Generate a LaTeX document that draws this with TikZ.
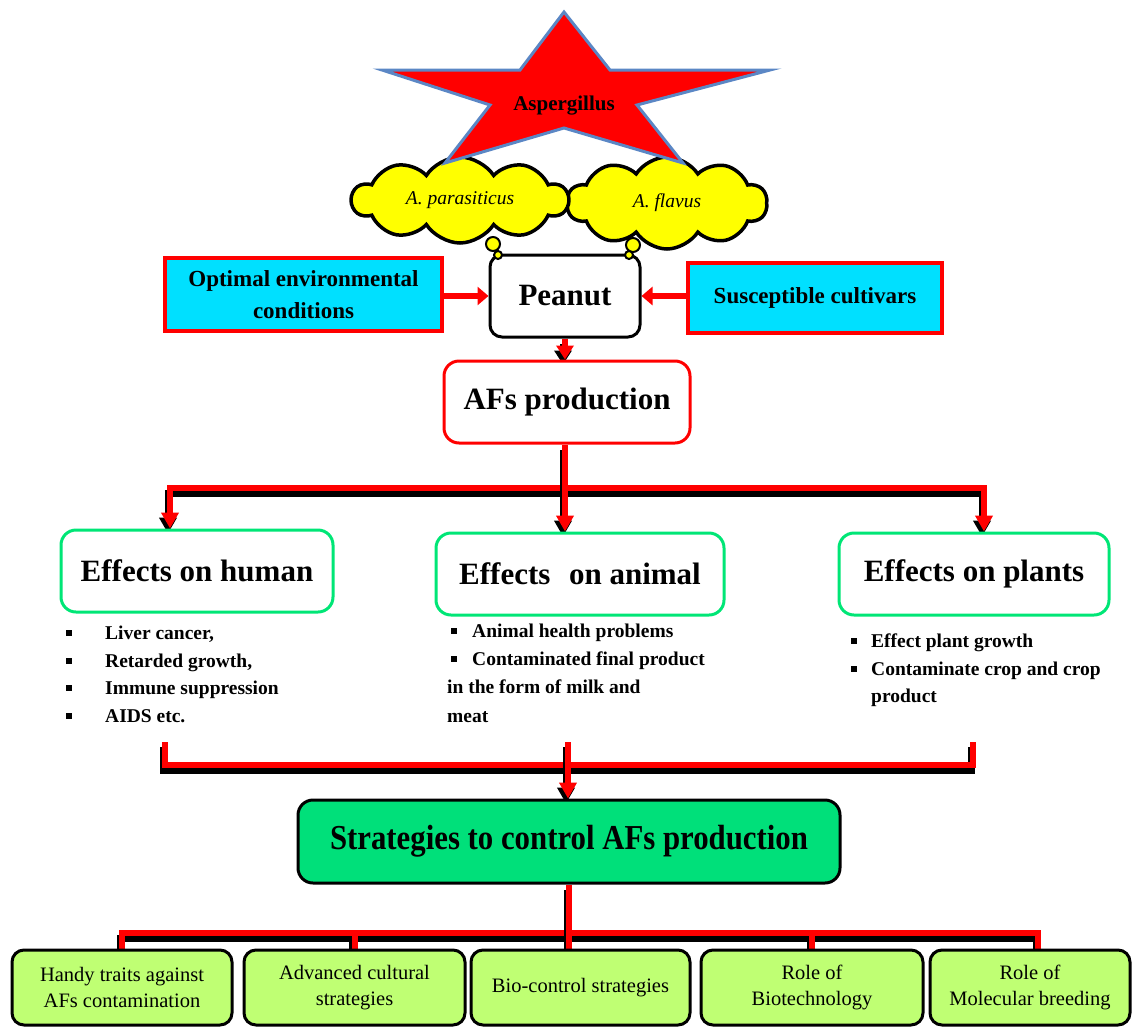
\documentclass[tikz,border=0pt]{standalone}
\usepackage{fontspec}
\setmainfont{Liberation Serif}
\newfontfamily\condfont[FakeStretch=0.88]{Liberation Serif}
\usetikzlibrary{arrows.meta,shapes.symbols}
\definecolor{starblue}{HTML}{5B87C5}
\definecolor{cyanbox}{HTML}{00E0FF}
\definecolor{effgreen}{HTML}{00E676}
\definecolor{stratgreen}{HTML}{00E07A}
\definecolor{lightgreen}{HTML}{BFFF73}
\definecolor{cloudyellow}{HTML}{FFFF00}
\newcommand\bulsq{\rule[3pt]{6pt}{6pt}}
\pgfdeclarelayer{bg}
\pgfsetlayers{bg,main}
\tikzset{
  cloudnode/.style={cloud, cloud puffs=10, cloud puff arc=115, cloud ignores aspect, draw=black, line width=3.5pt, fill=cloudyellow, inner sep=0pt, font=\fontsize{19.5}{22}\selectfont\itshape},
  whitebox/.style={rectangle, rounded corners=12pt, draw=black, line width=3pt, fill=white, font=\fontsize{31}{36}\selectfont\bfseries},
  redbox/.style={rectangle, rounded corners=15pt, draw=red, line width=3pt, fill=white, font=\fontsize{31}{36}\selectfont\bfseries},
  cyanrect/.style={rectangle, draw=red, line width=3.5pt, fill=cyanbox, align=center, font=\fontsize{23}{32}\selectfont\bfseries},
  effbox/.style={rectangle, rounded corners=15pt, draw=effgreen, line width=3pt, fill=white, font=\fontsize{31}{36}\selectfont\bfseries},
  stratbox/.style={rectangle, rounded corners=15pt, draw=black, line width=3pt, fill=stratgreen, font=\fontsize{35}{40}\condfont\bfseries},
  leaf/.style={rectangle, rounded corners=12pt, draw=black, line width=3pt, fill=lightgreen, align=center, minimum height=75pt, font=\fontsize{20.5}{26}\selectfont},
  listtext/.style={inner sep=0pt, anchor=base west, font=\fontsize{19.5}{27}\selectfont\bfseries},
  conn/.style={draw=red, line width=6pt, preaction={draw=black, line width=7pt, transform canvas={xshift=-2pt,yshift=-5pt}}},
  arrowhd/.style={-{Triangle[length=16pt,width=17pt]}},
  redarrow/.style={draw=red, line width=6pt, -{Triangle[length=11pt,width=18pt]}},
}
\begin{document}
\begin{tikzpicture}[x=1pt,y=-1pt]
\useasboundingbox (0,0) rectangle (1137,1028);

% clouds
\node[cloudnode, minimum width=200pt, minimum height=92pt] (flavus) at (667,203) {A. flavus};
\node[cloudnode, minimum width=216pt, minimum height=86pt] (parasit) at (460,200) {A. parasiticus};

% star
\filldraw[fill=red, draw=starblue, line width=3pt, line join=miter]
  (564,12) -- (610,70) -- (770,70) -- (637,105) -- (683,163) -- (564,128)
  -- (445,163) -- (490,105) -- (382,70) -- (520,70) -- cycle;
\node[inner sep=0pt, anchor=base, font=\fontsize{21}{24}\selectfont\bfseries] (asp) at (564,110) {Aspergillus};

% central chain
\node[whitebox, minimum width=150pt, minimum height=82pt] (peanut) at (565,296) {Peanut};
\node[cyanrect, minimum width=277pt, minimum height=73pt] (opt) at (303.5,294.5) {Optimal environmental\\conditions};
\node[cyanrect, minimum width=254pt, minimum height=70pt] (susc) at (815,298) {Susceptible cultivars};
\node[redbox, minimum width=246pt, minimum height=82pt] (afs) at (567,402) {AFs production};

% thought bubbles
\filldraw[fill=cloudyellow, draw=black, line width=2pt] (493,244) circle (7pt);
\filldraw[fill=cloudyellow, draw=black, line width=2pt] (498,255) circle (4pt);
\filldraw[fill=cloudyellow, draw=black, line width=2pt] (633,245) circle (7pt);
\filldraw[fill=cloudyellow, draw=black, line width=2pt] (629,255) circle (4pt);

% effects
\node[effbox, minimum width=272pt, minimum height=82pt] (human) at (197,571) {Effects on human};
\node[effbox, minimum width=288pt, minimum height=82pt] (animal) at (580,574) {Effects\hspace{0.35em} on animal};
\node[effbox, minimum width=270pt, minimum height=82pt] (plants) at (974,574) {Effects on plants};

% lists
\node[listtext] (h1) at (66,639) {\makebox[39pt][l]{\bulsq}Liver cancer,};
\node[listtext] (h2) at (66,667) {\makebox[39pt][l]{\bulsq}Retarded growth,};
\node[listtext] (h3) at (66,694) {\makebox[39pt][l]{\bulsq}Immune suppression};
\node[listtext] (h4) at (66,722) {\makebox[39pt][l]{\bulsq}AIDS etc.};
\node[listtext] (a1) at (451,637) {\makebox[21pt][l]{\bulsq}Animal health problems};
\node[listtext] (a2) at (451,665) {\makebox[21pt][l]{\bulsq}Contaminated final product};
\node[listtext] (a3) at (447,693) {in the form of milk and};
\node[listtext] (a4) at (447,722) {meat};
\node[listtext] (p1) at (851,647) {\makebox[20pt][l]{\bulsq}Effect plant growth};
\node[listtext] (p2) at (851,675) {\makebox[20pt][l]{\bulsq}Contaminate crop and crop};
\node[listtext] (p3) at (871,702) {product};

% strategies
\node[stratbox, minimum width=542pt, minimum height=83pt] (strat) at (569,841.5) {Strategies to control AFs production};
\node[leaf, minimum width=220pt] (leaf1) at (122,987.5) {Handy traits against\\AFs contamination};
\node[leaf, minimum width=221pt] (leaf2) at (354.5,987.5) {Advanced cultural\\strategies};
\node[leaf, minimum width=219pt] (leaf3) at (580.5,987.5) {Bio-control strategies};
\node[leaf, minimum width=222pt] (leaf4) at (812,987.5) {Role of\\Biotechnology};
\node[leaf, minimum width=200pt] (leaf5) at (1030,987.5) {Role of\\Molecular breeding};

% coordinates for buses
\coordinate (b1l) at (170,488);
\coordinate (b1r) at (984,488);
\coordinate (b1c) at (565,488);
\coordinate (t2l) at (165,742);
\coordinate (t2r) at (973,742);
\coordinate (t2c) at (568,742);
\coordinate (b2l) at (165,765);
\coordinate (b2r) at (973,765);
\coordinate (b3l) at (122,933);
\coordinate (b3r) at (1038,933);

\begin{pgfonlayer}{bg}
  \draw[redarrow] (opt.east |- peanut.west) -- (peanut.west);
  \draw[redarrow] (susc.west |- peanut.east) -- (peanut.east);
  \draw[conn, -{Triangle[length=14pt,width=17pt]}] (peanut.south) -- (peanut.south |- afs.north);
  \draw[conn, {Triangle[length=16pt,width=17pt]}-{Triangle[length=16pt,width=17pt]}]
    (b1l |- human.north) -- (b1l) -- (b1r) -- (b1r |- plants.north);
  \draw[conn, arrowhd] (afs.south -| b1c) -- (b1c |- animal.north);
  \draw[conn] (t2l) -- (b2l) -- (b2r) -- (t2r);
  \draw[conn, arrowhd] (t2c) -- (t2c |- strat.north);
  \draw[conn] (b3l |- leaf1.north) -- (b3l) -- (b3r) -- (b3r |- leaf5.north);
  \draw[conn] (strat.south) -- (strat.south |- leaf3.north);
  \draw[conn] (leaf2.north |- b3l) -- (leaf2.north);
  \draw[conn] (leaf4.north |- b3l) -- (leaf4.north);
\end{pgfonlayer}
\end{tikzpicture}
\end{document}
